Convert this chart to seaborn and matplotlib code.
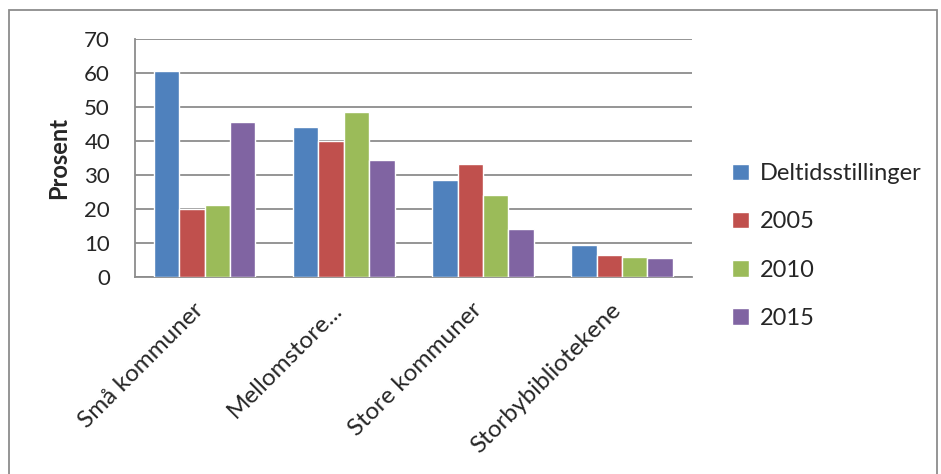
import pandas as pd
import seaborn as sns
import matplotlib
matplotlib.use("Agg")
import matplotlib.pyplot as plt
import matplotlib.transforms as mtransforms
from matplotlib.patches import Rectangle

categories = ["Små kommuner", "Mellomstore...", "Store kommuner", "Storbybibliotekene"]
series = ["Deltidsstillinger", "2005", "2010", "2015"]
deltid = [60.5, 44.2, 28.5, 9.5]
v2005 = [20.0, 40.1, 33.2, 6.6]
v2010 = [21.1, 48.5, 24.1, 6.0]
v2015 = [45.6, 34.3, 14.2, 5.6]
colors = ["#4F81BD", "#C0504D", "#9BBB59", "#8064A2"]

rows = []
for name, vals in zip(series, [deltid, v2005, v2010, v2015]):
    for cat, v in zip(categories, vals):
        rows.append({"kategori": cat, "serie": name, "verdi": v})
df = pd.DataFrame(rows)

sns.set_style("white")
plt.rcParams["font.family"] = ["Lato", "DejaVu Sans"]

fig = plt.figure(figsize=(9.41, 4.74), dpi=100)
ax = fig.add_axes([0.1435, 0.4156, 0.5915, 0.5021])

sns.barplot(data=df, x="kategori", y="verdi", hue="serie", palette=colors,
            width=0.73, saturation=1, ax=ax, zorder=3)

ax.set_ylim(0, 70)
ax.set_xlim(-0.5, 3.5)
ax.set_yticks(range(0, 71, 10))
ax.yaxis.grid(True, color="#8c8c8c", linewidth=1.3, zorder=0)
ax.set_axisbelow(True)
for s in ["top", "right"]:
    ax.spines[s].set_visible(False)
for s in ["left", "bottom"]:
    ax.spines[s].set_color("#8c8c8c")
    ax.spines[s].set_linewidth(1.3)
ax.tick_params(axis="y", labelsize=16, length=0, pad=18)
ax.tick_params(axis="x", labelsize=17.5, length=0, pad=16)
shift = mtransforms.ScaledTranslation(-12 / 100, 0, fig.dpi_scale_trans)
for lbl in ax.get_xticklabels():
    lbl.set_rotation(45)
    lbl.set_ha("right")
    lbl.set_rotation_mode("anchor")
    lbl.set_transform(lbl.get_transform() + shift)
ax.set_xlabel("")
ax.set_ylabel("Prosent", fontsize=17, fontweight="bold", labelpad=10)

ax.legend(loc="center left", bbox_to_anchor=(1.035, 0.13), frameon=False,
          fontsize=17, handlelength=0.7, handleheight=0.7, labelspacing=1.15,
          handletextpad=0.45)

fig.patches.append(Rectangle((9 / 941, -0.05), 928 / 941, 1 - 10 / 474 + 0.05,
                             transform=fig.transFigure, fill=False,
                             edgecolor="#8c8c8c", linewidth=1.3))

fig.savefig("out.png", dpi=100)
